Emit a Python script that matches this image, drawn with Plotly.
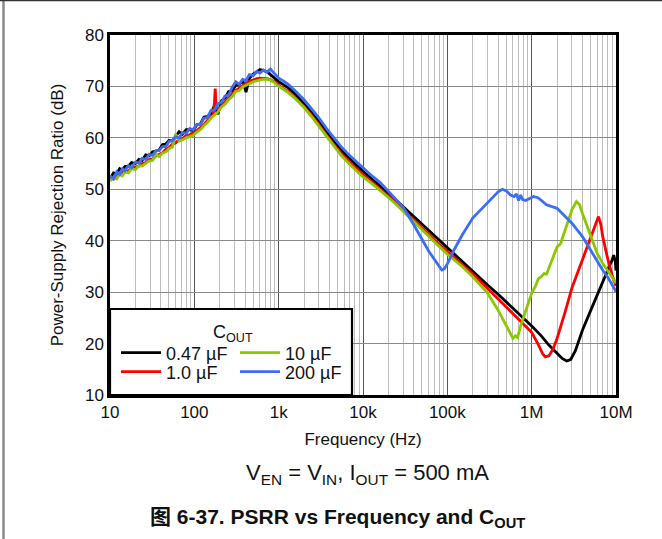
import plotly.graph_objects as go

# ---------------- data ----------------
f_047 = [10, 11, 12, 13, 14, 15, 16.5, 18, 20, 22, 24, 26.5, 29, 32, 35, 38, 42, 46, 50, 55,
         60, 66, 72, 80, 88, 97, 107, 118, 130, 143, 157, 173, 190, 210, 230, 255, 280, 310, 340, 375,
         410, 450, 500, 550, 600, 660, 730, 800, 880, 960,
         1000, 1150, 1300, 1600, 2000, 2500, 3000, 3700, 4400, 5500, 7000, 8500, 10000, 13000, 16000,
         20000, 25000, 30000, 40000, 50000, 70000, 100000, 150000, 200000, 300000, 400000, 500000,
         700000, 1000000, 1300000, 1600000, 2000000, 2300000, 2600000, 2900000, 3300000, 4000000,
         5000000, 6000000, 7000000, 8000000, 9000000, 9400000, 9800000, 10000000]
db_047 = [52.0, 53.2, 53.0, 54.0, 53.7, 54.4, 54.5, 55.2, 55.0, 55.8, 55.6, 56.7, 56.5, 57.3, 57.4, 57.6, 58.7, 58.8, 59.5, 59.4,
          60.3, 61.2, 60.7, 61.6, 61.6, 61.4, 62.5, 62.7, 64.0, 64.2, 64.7, 66.3, 64.6, 67.2, 67.7, 69.0, 69.1, 70.2, 70.3, 71.2,
          68.9, 71.6, 72.4, 72.9, 73.3, 73.1, 72.8, 72.3, 71.7, 71.0,
          70.9, 70.3, 69.7, 68.4, 66.7, 64.8, 63.2, 61.1, 59.5, 57.7, 55.9, 54.6, 53.5, 51.9, 50.6,
          49.2, 47.8, 46.6, 44.7, 43.1, 40.9, 38.6, 36.0, 34.1, 31.4, 29.6, 28.1,
          25.9, 23.4, 21.5, 19.7, 18.1, 17.1, 16.6, 16.9, 18.6, 22.6,
          26.4, 29.4, 31.9, 34.2, 36.3, 37.2, 36.0, 34.2]

f_1u0 = [10, 11, 12, 13, 14, 15, 16.5, 18, 20, 22, 24, 26.5, 29, 32, 35, 38, 42, 46, 50, 55,
         60, 66, 72, 80, 88, 97, 107, 118, 130, 143, 157, 168, 173, 177, 181, 190, 210, 230, 255, 280,
         310, 340, 375, 410, 450, 500, 550, 600, 660, 730, 800, 880, 960,
         1000, 1150, 1300, 1600, 2000, 2500, 3000, 3700, 4400, 5500, 7000, 8500, 10000, 13000, 16000,
         20000, 25000, 30000, 40000, 50000, 70000, 100000, 150000, 200000, 300000, 400000, 500000,
         700000, 1000000, 1200000, 1350000, 1450000, 1600000, 1800000, 2000000, 2500000, 3000000,
         4000000, 5000000, 5700000, 6200000, 6600000, 7000000, 8000000, 9000000, 10000000]
db_1u0 = [52.2, 52.0, 52.6, 52.8, 53.0, 53.5, 53.6, 54.1, 54.3, 54.5, 55.0, 55.2, 55.8, 55.9, 56.5, 56.8, 57.1, 57.8, 58.1, 58.8,
          59.0, 59.7, 59.8, 60.5, 60.6, 61.0, 61.4, 62.0, 62.6, 63.4, 64.0, 64.5, 66.8, 69.6, 66.0, 65.5, 66.2, 67.0, 67.7, 68.5,
          69.2, 69.7, 70.3, 70.6, 71.0, 71.3, 71.5, 71.6, 71.6, 71.5, 71.3, 71.0, 70.6,
          70.2, 69.6, 69.0, 67.7, 66.1, 64.2, 62.6, 60.5, 58.9, 57.0, 55.2, 53.9, 52.8, 51.3, 50.1,
          48.7, 47.3, 46.0, 44.1, 42.5, 40.2, 37.9, 35.4, 33.5, 30.7, 28.7, 27.1,
          24.8, 22.2, 19.8, 18.0, 17.4, 17.6, 19.0, 21.0, 26.2, 30.8,
          36.3, 40.4, 43.0, 44.7, 43.2, 40.6, 36.4, 33.3, 31.2]

f_10u = [10, 11, 12, 13, 14, 15, 16.5, 18, 20, 22, 24, 26.5, 29, 32, 35, 38, 42, 46, 50, 55,
         60, 66, 72, 80, 88, 97, 107, 118, 130, 143, 157, 173, 190, 210, 230, 255, 280, 310, 340, 375,
         410, 450, 500, 550, 600, 660, 730, 800, 880, 960,
         1000, 1150, 1300, 1600, 2000, 2500, 3000, 3700, 4400, 5500, 7000, 8500, 10000, 13000, 16000,
         20000, 25000, 30000, 40000, 50000, 70000, 100000, 150000, 200000, 300000, 400000, 500000,
         550000, 600000, 640000, 680000, 740000, 850000, 1000000, 1100000, 1200000, 1300000, 1400000,
         1500000, 1700000, 2000000, 2200000, 2500000, 3000000, 3400000, 3700000, 4000000, 5000000,
         6000000, 7000000, 8000000, 10000000]
db_10u = [51.6, 52.3, 52.0, 52.9, 52.6, 53.4, 53.2, 54.0, 53.8, 54.6, 54.5, 55.0, 55.5, 55.6, 56.8, 56.4, 57.0, 57.3, 57.9, 58.2,
          60.8, 59.4, 59.6, 60.0, 60.3, 60.5, 61.1, 61.6, 62.4, 63.0, 63.8, 64.4, 65.0, 66.0, 66.5, 67.4, 68.0, 69.0, 69.2, 69.9,
          70.2, 70.6, 70.9, 71.1, 71.3, 71.4, 71.4, 71.2, 70.8, 70.3,
          70.0, 69.4, 68.8, 67.5, 65.9, 64.0, 62.3, 60.2, 58.5, 56.6, 54.8, 53.5, 52.4, 51.0, 49.8,
          48.4, 47.0, 45.7, 43.8, 42.1, 39.8, 37.4, 35.0, 33.0, 29.8, 26.5, 23.6,
          22.1, 21.0, 21.5, 21.2, 23.4, 26.5, 29.8, 31.0, 32.6, 33.0, 33.6,
          33.5, 35.8, 38.8, 39.4, 42.1, 46.0, 47.6, 47.0, 45.3, 40.8,
          37.5, 35.5, 34.2, 31.8]

f_200u = [10, 11, 12, 13, 14, 15, 16.5, 18, 20, 22, 24, 26.5, 29, 32, 35, 38, 42, 46, 50, 55,
          60, 66, 72, 80, 88, 97, 107, 118, 130, 143, 157, 173, 190, 210, 230, 255, 280, 310, 340, 375,
          410, 450, 500, 550, 600, 660, 730, 800, 880, 960,
          1000, 1150, 1300, 1600, 2000, 2500, 3000, 3700, 4400, 5500, 7000, 8500, 10000, 13000, 16000,
          20000, 25000, 30000, 40000, 50000, 60000, 70000, 80000, 86000, 92000, 100000, 120000, 150000,
          200000, 300000, 400000, 450000, 500000, 560000, 620000, 660000, 700000, 740000, 780000, 850000,
          950000, 1050000, 1200000, 1500000, 2000000, 3000000, 4000000, 5000000, 6000000, 7000000,
          8000000, 10000000]
db_200u = [52.6, 52.0, 53.4, 52.9, 54.0, 53.6, 54.6, 54.2, 55.3, 55.1, 56.0, 55.8, 56.8, 56.6, 57.5, 57.5, 58.3, 58.3, 59.3, 59.4,
           60.2, 60.0, 61.0, 60.9, 61.8, 61.6, 62.6, 62.6, 63.8, 64.0, 65.3, 65.4, 66.6, 66.9, 68.1, 68.3, 69.8, 70.9, 70.4, 71.4,
           71.1, 72.3, 72.1, 72.9, 72.6, 73.2, 72.8, 73.4, 72.6, 71.9,
           71.6, 71.0, 70.4, 69.0, 67.4, 65.5, 63.9, 61.8, 60.2, 58.3, 56.5, 55.2, 54.1, 52.5, 51.3,
           49.6, 48.0, 46.5, 43.1, 40.2, 38.0, 36.4, 34.9, 34.3, 34.5, 35.5, 38.2, 41.1,
           44.4, 47.4, 49.5, 50.0, 49.7, 48.9, 48.6, 49.1, 47.8, 48.9, 48.0, 47.8,
           48.3, 48.6, 48.3, 47.0, 46.3, 43.4, 40.8, 38.2, 35.9, 34.2,
           32.9, 30.1]

series_names = ["0.47 µF", "1.0 µF", "10 µF", "200 µF"]
series_colors = ["#000000", "#ff0000", "#8cc800", "#3b6ef5"]
tick_vals = [10, 100, 1000, 10000, 100000, 1000000, 10000000]
tick_text = ["10", "100", "1k", "10k", "100k", "1M", "10M"]

# ---------------- figure ----------------
FONT = "Liberation Sans, Arial, Noto Sans CJK SC, sans-serif"
fig = go.Figure()
xs = [f_047, f_1u0, f_10u, f_200u]
ys = [db_047, db_1u0, db_10u, db_200u]
legend_ids = ["legend", "legend2", "legend3", "legend4"]
for x, y, name, color, lg in zip(xs, ys, series_names, series_colors, legend_ids):
    fig.add_trace(go.Scatter(x=x, y=y, mode="lines", name=name, legend=lg, showlegend=True,
                             line=dict(color=color, width=2.8)))

W, H = 662, 539
L, R, T, B = 110, 46, 35, 144
pw, ph = W - L - R, H - T - B


def px(xp):
    return (xp - L) / pw


def py(yp):
    return (H - B - yp) / ph


leg_common = dict(bgcolor="rgba(0,0,0,0)", borderwidth=0, font=dict(family=FONT, size=18, color="#111"),
                  xanchor="left", yanchor="middle", itemwidth=40)
fig.update_layout(
    width=W, height=H,
    margin=dict(l=L, r=R, t=T, b=B, autoexpand=False),
    paper_bgcolor="white", plot_bgcolor="white",
    showlegend=True,
    font=dict(family=FONT, size=17, color="#111"),
    xaxis=dict(type="log", range=[1, 7], tickvals=tick_vals, ticktext=tick_text,
               showgrid=True, gridcolor="#555", gridwidth=1,
               minor=dict(dtick="D1", showgrid=True, gridcolor="#bdbdbd", gridwidth=1),
               showline=True, linecolor="black", linewidth=2.5, mirror=True, ticks="",
               zeroline=False,
               title=dict(text="Frequency (Hz)", font=dict(size=17), standoff=12),
               tickfont=dict(size=17)),
    yaxis=dict(range=[10, 80], dtick=10, showgrid=True, gridcolor="#8a8a8a", gridwidth=1,
               showline=True, linecolor="black", linewidth=2.5, mirror=True, ticks="",
               zeroline=False,
               title=dict(text="Power-Supply Rejection Ratio (dB)", font=dict(size=17), standoff=17),
               tickfont=dict(size=17)),
    legend=dict(x=px(116), y=py(353), **leg_common),
    legend2=dict(x=px(116), y=py(372), **leg_common),
    legend3=dict(x=px(235), y=py(353), **leg_common),
    legend4=dict(x=px(235), y=py(372), **leg_common),
)

# legend frame (white box with black border) inside the plot area
fig.add_shape(type="rect", xref="paper", yref="paper", x0=0, y0=0, x1=px(352), y1=py(309),
              line=dict(color="black", width=2.2), fillcolor="white", layer="above")
fig.add_annotation(text="C<sub>OUT</sub>", xref="paper", yref="paper", x=px(233), y=py(333),
                   xanchor="center", yanchor="middle",
                   showarrow=False, font=dict(family=FONT, size=18, color="#111"))

# captions below the chart
fig.add_annotation(text="V<sub>EN</sub> = V<sub>IN</sub>, I<sub>OUT</sub> = 500 mA", xref="paper", yref="paper",
                   x=px(367), y=py(474), xanchor="center", yanchor="middle",
                   showarrow=False, font=dict(family=FONT, size=22, color="#111"))
fig.add_annotation(text="<b>图 6-37. PSRR vs Frequency and C<sub>OUT</sub></b>", xref="paper", yref="paper",
                   x=px(337), y=py(518), xanchor="center", yanchor="middle",
                   showarrow=False, font=dict(family=FONT, size=21, color="#111"))

# page frame lines
fig.add_shape(type="line", xref="paper", yref="paper", x0=px(3.5), x1=px(3.5), y0=py(539), y1=py(0),
              line=dict(color="#8a8a8a", width=2.5), layer="above")
fig.add_shape(type="line", xref="paper", yref="paper", x0=px(0), x1=px(662), y0=py(0.6), y1=py(0.6),
              line=dict(color="#333", width=1.5), layer="above")

fig.write_html("out.html", config={"displayModeBar": False},
               post_script="document.body.style.margin='0px';")
